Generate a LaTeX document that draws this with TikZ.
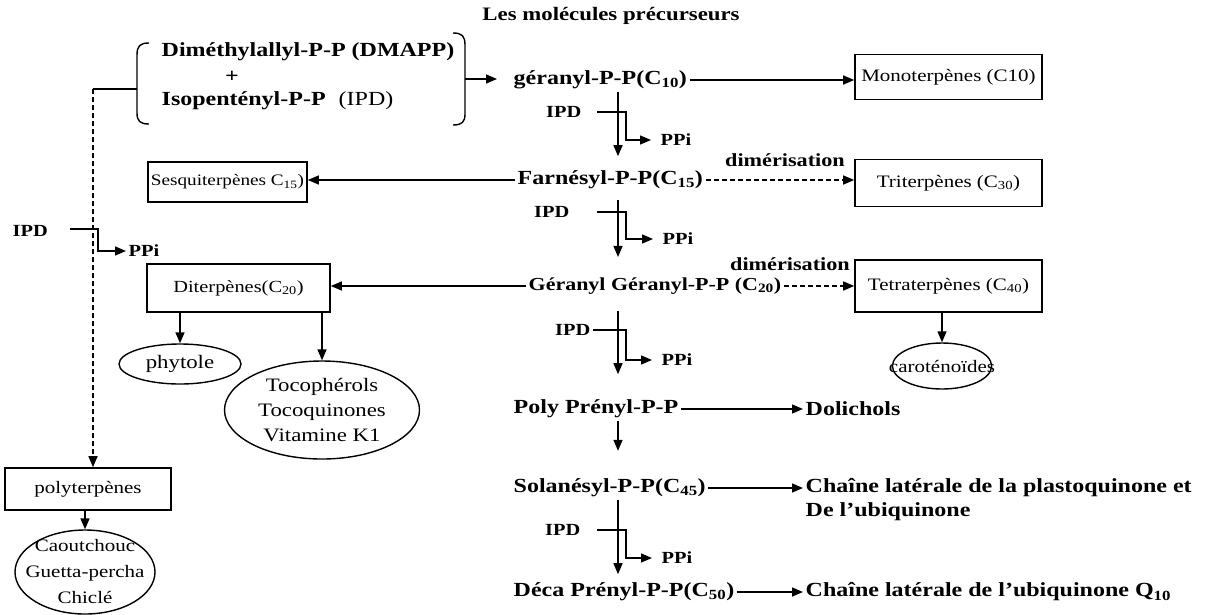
\documentclass[tikz,border=0pt]{standalone}
\usepackage{fontspec}
\setmainfont{Liberation Serif}[FakeStretch=1.2]
\usetikzlibrary{arrows.meta,shapes.geometric}
\newcommand\fmol{\fontsize{20}{24}\selectfont\bfseries}
\newcommand\ftag{\fontsize{17}{20}\selectfont\bfseries}
\newcommand\freg{\fontsize{17.5}{26}\selectfont}
\begin{document}
\begin{tikzpicture}[x=1pt, y=-1pt, line width=1.4pt,
  arr/.style={-{Triangle[length=11pt,width=9pt]}},
  dsh/.style={dash pattern=on 5pt off 3pt},
  mol/.style={font=\fmol, inner sep=2pt},
  tag/.style={font=\ftag, inner sep=2pt},
  ppi/.style={font=\ftag, inner sep=2pt, inner xsep=9pt, anchor=west},
  tbox/.style={draw, font=\freg, line width=1.6pt, inner sep=2pt},
  oval/.style={draw, ellipse, font=\freg, inner sep=0pt, align=center}]
  \useasboundingbox (0,0) rectangle (1217,614);
  % titre
  \node[mol, font=\fontsize{19}{22}\selectfont\bfseries] (titre) at (611,16) {Les molécules précurseurs};
  % précurseurs entre crochets
  \node[mol, anchor=west] (dmapp) at (159,52) {Diméthylallyl-P-P (DMAPP)};
  \node[mol] (plus) at (232,77) {+};
  \node[mol, anchor=west] (ipp) at (159,101) {Isopentényl-P-P\hspace{0.65em}{\mdseries(IPD)}};
  \draw (149,43) .. controls (140,43) and (137,46) .. (137,55) -- (137,113) .. controls (137,121) and (140,124) .. (149,124);
  \draw (453,33) .. controls (462,33) and (465,36) .. (465,45) -- (465,114) .. controls (465,122) and (462,125) .. (453,125);
  \coordinate (brL) at (137,89);
  \coordinate (brR) at (465,79);
  \coordinate (dk) at (93,89);
  % colonne centrale
  \coordinate (mx) at (618,0);
  \coordinate (lx) at (597,0);
  \coordinate (cx) at (626,0);
  \node[mol, anchor=west] (ger) at (511,80) {géranyl-P-P(C\textsubscript{10})};
  \node[mol, anchor=west] (far) at (515,180) {Farnésyl-P-P(C\textsubscript{15})};
  \node[mol, anchor=west, font=\fontsize{18.3}{22}\selectfont\bfseries] (gg) at (526,286) {Géranyl Géranyl-P-P (C\textsubscript{20})};
  \node[mol, anchor=west] (ppp) at (511,409) {Poly Prényl-P-P};
  \node[mol, anchor=west] (sol) at (511,488) {Solanésyl-P-P(C\textsubscript{45})};
  \node[mol, anchor=west] (deca) at (511,592) {Déca Prényl-P-P(C\textsubscript{50})};
  \draw[arr, shorten >=14pt] (brR) -- (brR -| ger.west);
  \draw[arr, shorten >=12pt] (mx |- ger.south) -- (mx |- far.north);
  \draw[arr, shorten <=8pt, shorten >=18pt] (mx |- far.south) -- (mx |- gg.north);
  \draw[arr, shorten <=14pt, shorten >=23pt] (mx |- gg.south) -- (mx |- ppp.north);
  \draw[arr] (mx |- ppp.south) -- ++(0,30);
  \draw[arr, shorten >=6pt] (mx |- sol.south) -- (mx |- deca.north);
  % IPD et PPi
  \node[tag, anchor=east] (ipd1) at (584,112) {IPD};
  \node[ppi] (ppi1) at (651,140) {PPi};
  \draw[arr] (lx |- ipd1.east) -- (cx |- ipd1.east) |- (ppi1.west);
  \node[tag, anchor=east] (ipd2) at (572,212) {IPD};
  \node[ppi] (ppi2) at (653,239) {PPi};
  \draw[arr] (lx |- ipd2.east) -- (cx |- ipd2.east) |- (ppi2.west);
  \node[tag, anchor=east] (ipd3) at (593,330) {IPD};
  \node[ppi] (ppi3) at (652,360) {PPi};
  \draw[arr] (ipd3.east) -- (cx |- ipd3.east) |- (ppi3.west);
  \node[tag, anchor=east] (ipd4) at (583,530) {IPD};
  \node[ppi] (ppi4) at (652,558) {PPi};
  \draw[arr] (lx |- ipd4.east) -- (cx |- ipd4.east) |- (ppi4.west);
  % terpènes
  \node[tbox, minimum width=187pt, minimum height=45pt] (mono) at (948.5,77) {Monoterpènes (C10)};
  \node[tbox, font=\fontsize{16}{18}\selectfont, minimum width=159pt, minimum height=40pt] (sesq) at (227.5,182) {Sesquiterpènes C\textsubscript{15})};
  \node[tbox, minimum width=187pt, minimum height=47pt] (tri) at (948.5,183) {Triterpènes (C\textsubscript{30})};
  \node[tbox, font=\fontsize{17}{20}\selectfont, minimum width=183pt, minimum height=48pt] (dit) at (238.5,288) {Diterpènes(C\textsubscript{20})};
  \node[tbox, minimum width=187pt, minimum height=52pt] (tetra) at (948.5,286) {Tetraterpènes (C\textsubscript{40})};
  \node[tag, font=\fontsize{18.5}{22}\selectfont\bfseries] (dim1) at (785,160) {dimérisation};
  \node[tag, font=\fontsize{18.5}{22}\selectfont\bfseries] (dim2) at (790,264) {dimérisation};
  \draw[arr] (ger.east) -- (ger.east -| mono.west);
  \draw[arr] (far.west) -- (far.west -| sesq.east);
  \draw[arr, dsh] (far.east) -- (far.east -| tri.west);
  \draw[arr] (gg.west) -- (gg.west -| dit.east);
  \draw[arr, dsh] (gg.east) -- (gg.east -| tetra.west);
  % dérivés
  \node[oval, font=\fontsize{19}{22}\selectfont, minimum width=122pt, minimum height=40pt] (phyt) at (180,364) {phytole};
  \node[oval, font=\fontsize{19}{25}\selectfont, minimum width=195pt, minimum height=98pt] (toco) at (322,410) {Tocophérols\\Tocoquinones\\Vitamine K1};
  \node[oval, minimum height=46pt, inner xsep=-18pt] (caro) at (942,366) {caroténoïdes};
  \draw[arr] (phyt |- dit.south) -- (phyt.north);
  \draw[arr] (toco |- dit.south) -- (toco.north);
  \draw[arr] (caro |- tetra.south) -- (caro.north);
  % produits à droite
  \node[mol, anchor=west] (doli) at (803,409) {Dolichols};
  \node[mol, anchor=west] (plasto) at (803,488) {Chaîne latérale de la plastoquinone et};
  \node[mol, anchor=north west] (ubi) at (plasto.south west) {De l’ubiquinone};
  \node[mol, anchor=west] (ubiq) at (803,592) {Chaîne latérale de l’ubiquinone Q\textsubscript{10}};
  \draw[arr] (ppp.east) -- (ppp.east -| doli.west);
  \draw[arr] (sol.east) -- (sol.east -| plasto.west);
  \draw[arr] (deca.east) -- (deca.east -| ubiq.west);
  % branche polyterpènes
  \node[tbox, minimum width=166pt, minimum height=42pt] (polyt) at (88,489) {polyterpènes};
  \node[oval, minimum width=140pt, minimum height=84pt, inner xsep=-11pt, inner ysep=-5pt] (caout) at (85,572) {Caoutchouc\\Guetta-percha\\Chiclé};
  \draw (brL) -- (dk);
  \draw[arr, dsh] (dk) -- (dk |- polyt.north);
  \draw[arr] (caout |- polyt.south) -- (caout.north);
  \node[tag, anchor=west] (ipdL) at (10,231) {IPD};
  \node[tag, anchor=west] (ppiL) at (126,251) {PPi};
  \coordinate (lq) at (70,229);
  \draw[arr] (lq) -- ++(28,0) |- (ppiL.west);
\end{tikzpicture}
\end{document}
